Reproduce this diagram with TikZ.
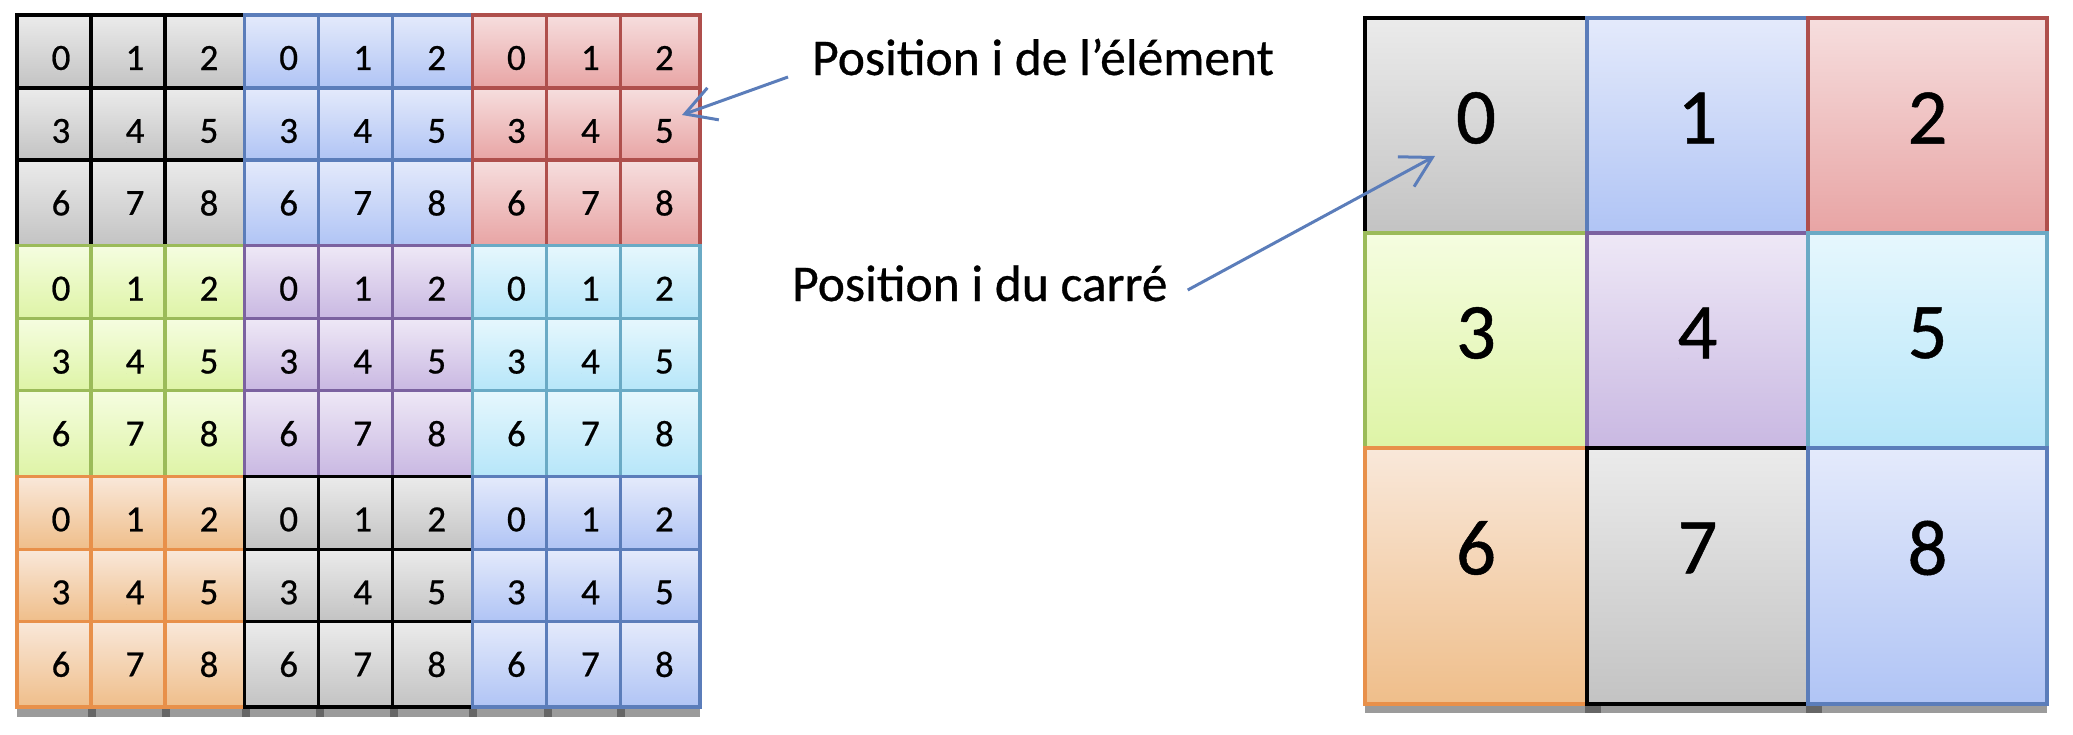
\documentclass[tikz,border=0pt]{standalone}
\usepackage{fontspec}
\setmainfont{Carlito}[FakeBold=0.6]
\usetikzlibrary{arrows.meta}
\definecolor{GrayTop}{HTML}{EBEBEB}
\definecolor{GrayBot}{HTML}{C3C3C3}
\definecolor{GrayLine}{HTML}{000000}
\definecolor{BlueTop}{HTML}{E4EAFB}
\definecolor{BlueBot}{HTML}{B0C4F5}
\definecolor{BlueLine}{HTML}{5B7DBA}
\definecolor{RedTop}{HTML}{F6DEDE}
\definecolor{RedBot}{HTML}{E8A4A4}
\definecolor{RedLine}{HTML}{AF4F4C}
\definecolor{GreenTop}{HTML}{F5FDE0}
\definecolor{GreenBot}{HTML}{DEF4A6}
\definecolor{GreenLine}{HTML}{9BBB59}
\definecolor{PurpleTop}{HTML}{EEE8F6}
\definecolor{PurpleBot}{HTML}{C9B8E2}
\definecolor{PurpleLine}{HTML}{7B62A0}
\definecolor{CyanTop}{HTML}{E6F7FD}
\definecolor{CyanBot}{HTML}{B6E6F9}
\definecolor{CyanLine}{HTML}{6AAAC5}
\definecolor{OrangeTop}{HTML}{F9E8DA}
\definecolor{OrangeBot}{HTML}{EFBE8A}
\definecolor{OrangeLine}{HTML}{E8904A}
\definecolor{ArrowClr}{HTML}{5B7DBA}
\definecolor{ShadowClr}{HTML}{9B9B9B}
\definecolor{TickClr}{HTML}{666666}

\tikzset{
  graycell/.style={top color=GrayTop,bottom color=GrayBot,draw=GrayLine},
  bluecell/.style={top color=BlueTop,bottom color=BlueBot,draw=BlueLine},
  redcell/.style={top color=RedTop,bottom color=RedBot,draw=RedLine},
  greencell/.style={top color=GreenTop,bottom color=GreenBot,draw=GreenLine},
  purplecell/.style={top color=PurpleTop,bottom color=PurpleBot,draw=PurpleLine},
  cyancell/.style={top color=CyanTop,bottom color=CyanBot,draw=CyanLine},
  orangecell/.style={top color=OrangeTop,bottom color=OrangeBot,draw=OrangeLine},
  smallcell/.style={line width=3.5pt},
  bigcell/.style={line width=4pt},
  smalldigit/.style={inner sep=0pt,font=\fontsize{37}{37}\selectfont},
  bigdigit/.style={inner sep=0pt,font=\fontsize{79}{79}\selectfont},
  label/.style={inner sep=0pt,anchor=base west,font=\fontsize{51.5}{51.5}\selectfont},
  pointer/.style={draw=ArrowClr,line width=3pt,-{Straight Barb[length=30pt,width=34pt]}}
}

\begin{document}
\begin{tikzpicture}[x=1pt,y=-1pt]
\useasboundingbox (0,0) rectangle (2073,734);

% left grid: nine blocks of 3x3 cells
\fill[ShadowClr] (17,707) rectangle (700,717);
\foreach \tx in {91,165,245,319,393,472,547,620}
  \fill[TickClr] (\tx-3,707) rectangle ++(8,10);
\foreach \k/\sty in {0/graycell,1/bluecell,2/redcell,3/greencell,4/purplecell,5/cyancell,6/orangecell,7/graycell,8/bluecell}{
  \pgfmathsetmacro\bx{17+227.7*mod(\k,3)}
  \pgfmathsetmacro\by{15+230.7*floor(\k/3)}
  \foreach \cx/\cw [count=\ci from 0] in {0/74,74/74,148/79.7}
    \foreach \ry/\rh [count=\ri from 0] in {0/73,73/72,145/85.7}{
      \pgfmathtruncatemacro\n{3*\ri+\ci}
      \path[smallcell,\sty] (\bx+\cx,\by+\ry) rectangle ++(\cw,\rh);
      \node[smalldigit] (s\k-\n) at (\bx+\cx+44,\by+\ry+43) {\n};
    }
}

% right grid: one cell per block
\fill[ShadowClr] (1365,704) rectangle (2047,713);
\foreach \tx in {1587,1808}
  \fill[TickClr] (\tx-2,704) rectangle ++(16,9);
\foreach \cx/\cw [count=\ci from 0] in {1365/222,1587/221,1808/239}
  \foreach \ry/\rh/\sty [count=\ri from 0] in {18/215/graycell,233/215/greencell,448/256/orangecell}{
    \pgfmathtruncatemacro\n{3*\ri+\ci}
    \ifnum\n=1 \def\sty{bluecell}\fi
    \ifnum\n=2 \def\sty{redcell}\fi
    \ifnum\n=4 \def\sty{purplecell}\fi
    \ifnum\n=5 \def\sty{cyancell}\fi
    \ifnum\n=7 \def\sty{graycell}\fi
    \ifnum\n=8 \def\sty{bluecell}\fi
    \path[bigcell,\sty] (\cx,\ry) rectangle ++(\cw,\rh);
    \node[bigdigit] (b\n) at (\cx+\cw/2,\ry+100) {\n};
  }

% labels and arrows
\node[label] (elem) at (812,75) {Position i de l’élément};
\node[label] (carre) at (792,301) {Position i du carré};
\coordinate (elemTip) at (682,115);
\coordinate (carreTip) at (1435,156);
\draw[pointer] ([xshift=-24pt,yshift=-2pt]elem.base west) -- (elemTip);
\draw[pointer] ([xshift=20pt,yshift=11pt]carre.base east) -- (carreTip);
\end{tikzpicture}
\end{document}
